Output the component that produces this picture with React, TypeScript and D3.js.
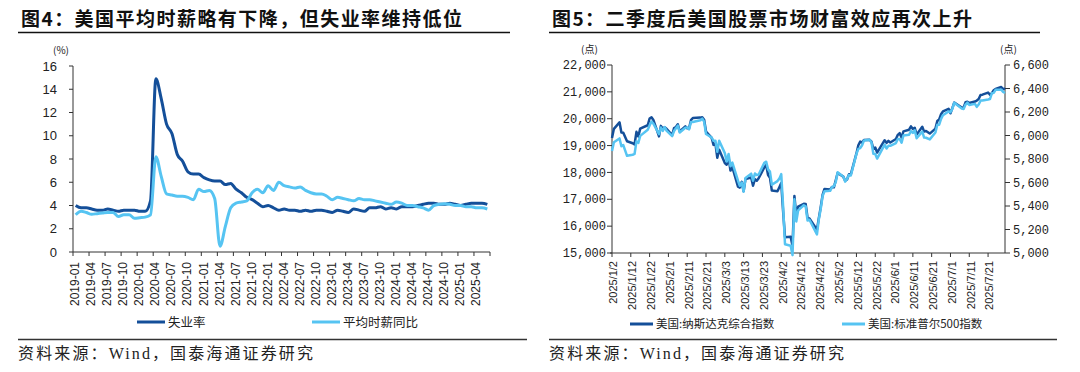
import React from "react";
import * as d3 from "d3";

// 图4: 月度数据, 2019-01 ~ 2025-06
const unemploymentRate = [
  4.0, 3.8, 3.8, 3.7, 3.6, 3.6, 3.7, 3.6, 3.5, 3.6, 3.6, 3.6,
  3.5, 3.5, 4.4, 14.9, 13.2, 11.0, 10.2, 8.4, 7.8, 6.9, 6.7, 6.7,
  6.4, 6.2, 6.1, 6.1, 5.8, 5.9, 5.4, 5.1, 4.7, 4.5, 4.2, 3.9,
  4.0, 3.8, 3.6, 3.7, 3.6, 3.6, 3.5, 3.6, 3.5, 3.6, 3.6, 3.5,
  3.4, 3.6, 3.5, 3.4, 3.7, 3.6, 3.5, 3.8, 3.8, 3.9, 3.7, 3.8,
  3.7, 3.9, 3.9, 3.9, 4.0, 4.1, 4.2, 4.2, 4.1, 4.1, 4.2, 4.1,
  4.0, 4.1, 4.2, 4.2, 4.2, 4.1,
];
const wageYoY = [
  3.2, 3.5, 3.4, 3.25, 3.3, 3.35, 3.4, 3.4, 3.05, 3.2, 3.2, 2.9,
  2.95, 3.0, 3.2, 8.2, 6.5, 5.0, 4.9, 4.8, 4.8, 4.7, 4.5, 5.4,
  5.2, 5.3, 4.6, 0.5, 2.2, 3.8, 4.2, 4.3, 4.4, 5.1, 5.4, 5.1,
  5.7, 5.3, 6.0, 5.7, 5.6, 5.5, 5.6, 5.3, 5.1, 5.0, 5.0, 4.8,
  4.5, 4.7, 4.6, 4.5, 4.4, 4.6, 4.5, 4.5, 4.4, 4.3, 4.2, 4.1,
  4.3, 4.2, 4.0, 4.0, 3.9, 3.8, 3.6, 4.0, 4.1, 4.15, 4.1, 4.0,
  4.0, 3.9, 3.9, 3.8, 3.8, 3.7,
];
const monthTickLabels = [
  "2019-01", "2019-04", "2019-07", "2019-10", "2020-01", "2020-04", "2020-07", "2020-10",
  "2021-01", "2021-04", "2021-07", "2021-10", "2022-01", "2022-04", "2022-07", "2022-10",
  "2023-01", "2023-04", "2023-07", "2023-10", "2024-01", "2024-04", "2024-07", "2024-10",
  "2025-01", "2025-04",
];
const pctTicks = [0, 2, 4, 6, 8, 10, 12, 14, 16];

// 图5: 日度数据, 2025 交易日
const tradeDays = [
  "1/2", "1/3", "1/6", "1/7", "1/8", "1/10", "1/13", "1/14", "1/15", "1/16", "1/17", "1/21", "1/22", "1/23", "1/24", "1/27", "1/28", "1/29", "1/30", "1/31",
  "2/3", "2/4", "2/5", "2/6", "2/7", "2/10", "2/11", "2/12", "2/13", "2/14", "2/18", "2/19", "2/20", "2/21", "2/24", "2/25", "2/26", "2/27", "2/28",
  "3/3", "3/4", "3/5", "3/6", "3/7", "3/10", "3/11", "3/12", "3/13", "3/14", "3/17", "3/18", "3/19", "3/20", "3/21", "3/24", "3/25", "3/26", "3/27", "3/28", "3/31",
  "4/1", "4/2", "4/3", "4/4", "4/7", "4/8", "4/9", "4/10", "4/11", "4/14", "4/15", "4/16", "4/17", "4/21", "4/22", "4/23", "4/24", "4/25", "4/28", "4/29", "4/30",
  "5/1", "5/2", "5/5", "5/6", "5/7", "5/8", "5/9", "5/12", "5/13", "5/14", "5/15", "5/16", "5/19", "5/20", "5/21", "5/22", "5/23", "5/27", "5/28", "5/29", "5/30",
  "6/2", "6/3", "6/4", "6/5", "6/6", "6/9", "6/10", "6/11", "6/12", "6/13", "6/16", "6/17", "6/18", "6/20", "6/23", "6/24", "6/25", "6/26", "6/27", "6/30",
  "7/1", "7/2", "7/3", "7/7", "7/8", "7/9", "7/10", "7/11", "7/14", "7/15", "7/16", "7/17", "7/18", "7/21", "7/22", "7/23", "7/24", "7/25", "7/28", "7/29", "7/30",
];
const nasdaq = [
  19280, 19622, 19865, 19490, 19479, 19162, 19088, 19044, 19511, 19338, 19630, 19757, 20009, 20053, 19954, 19342, 19734, 19632, 19681, 19627,
  19392, 19654, 19692, 19791, 19523, 19714, 19643, 19649, 19945, 20026, 20041, 20056, 19962, 19524, 19286, 19026, 19075, 18544, 18847,
  18350, 18285, 18553, 18069, 18196, 17468, 17436, 17648, 17303, 17754, 17808, 17504, 17751, 17692, 17784, 18189, 18272, 17900, 17804, 17323, 17299,
  17450, 17601, 16551, 15588, 15603, 15268, 17125, 16387, 16724, 16832, 16823, 16307, 16287, 15870, 16300, 16708, 17166, 17383, 17366, 17461, 17446,
  17710, 17978, 17844, 17690, 17738, 17929, 17929, 18708, 19010, 19147, 19112, 19211, 19215, 19143, 18873, 18926, 18737, 19200, 19101, 19175, 19114,
  19243, 19399, 19461, 19298, 19530, 19591, 19715, 19615, 19662, 19407, 19701, 19521, 19546, 19447, 19631, 19913, 19973, 20168, 20273, 20370,
  20202, 20393, 20601, 20412, 20418, 20611, 20630, 20586, 20640, 20677, 20730, 20885, 20896, 20974, 20893, 20950, 21058, 21108, 21179, 21098, 21130,
];
const spx = [
  5868, 5942, 5975, 5909, 5918, 5827, 5836, 5843, 5950, 5937, 5997, 6049, 6086, 6119, 6101, 6012, 6068, 6039, 6071, 6041,
  5995, 6038, 6061, 6084, 6026, 6066, 6069, 6052, 6115, 6115, 6129, 6144, 6118, 6013, 5983, 5955, 5956, 5861, 5955,
  5850, 5778, 5843, 5739, 5770, 5615, 5572, 5599, 5522, 5639, 5675, 5615, 5676, 5663, 5668, 5768, 5777, 5712, 5693, 5581, 5612,
  5633, 5671, 5397, 5074, 5062, 4982, 5457, 5268, 5363, 5406, 5397, 5276, 5283, 5158, 5288, 5376, 5485, 5525, 5529, 5561, 5569,
  5604, 5687, 5650, 5607, 5631, 5664, 5660, 5844, 5886, 5892, 5917, 5958, 5964, 5941, 5845, 5842, 5803, 5922, 5889, 5912, 5912,
  5936, 5970, 5971, 5939, 6000, 6006, 6038, 6022, 6045, 5977, 6033, 5982, 5981, 5967, 6025, 6092, 6092, 6141, 6173, 6205,
  6198, 6227, 6279, 6230, 6226, 6263, 6280, 6260, 6269, 6244, 6264, 6297, 6297, 6306, 6310, 6359, 6363, 6389, 6390, 6371, 6362,
];
const dateTickLabels = [
  "2025/1/2", "2025/1/12", "2025/1/22", "2025/2/1", "2025/2/11", "2025/2/21", "2025/3/3",
  "2025/3/13", "2025/3/23", "2025/4/2", "2025/4/12", "2025/4/22", "2025/5/2", "2025/5/12",
  "2025/5/22", "2025/6/1", "2025/6/11", "2025/6/21", "2025/7/1", "2025/7/11", "2025/7/21",
];
const nasdaqTicks = [15000, 16000, 17000, 18000, 19000, 20000, 21000, 22000];
const spxTicks = [5000, 5200, 5400, 5600, 5800, 6000, 6200, 6400, 6600];

const DARK = "#144f99";
const LIGHT = "#56c4f2";
const AXIS = "#333";
const TEXT = "#222";
const SANS = "'Liberation Sans', Arial, sans-serif";
const CJK = "'Noto Sans CJK SC', sans-serif";
const MONO = "'Liberation Mono', monospace";
const SOURCE_FONT = "'Liberation Serif', 'Noto Sans CJK SC', serif";

const toDate = (s: string) => {
  const p = s.split("/").map(Number);
  return p.length === 3 ? new Date(p[0], p[1] - 1, p[2]) : new Date(2025, p[0] - 1, p[1]);
};

function Header({ x0, x1, title, titleLen }: { x0: number; x1: number; title: string; titleLen: number }) {
  return (
    <g>
      <text x={x0 + 3} y={26} fontFamily={CJK} fontWeight={700} fontSize={19} fill="#111"
        textLength={titleLen} lengthAdjust="spacing">{title}</text>
      <line x1={x0} x2={x1} y1={32.5} y2={32.5} stroke="#111" strokeWidth={1.6} />
    </g>
  );
}

function Footer({ x0, x1 }: { x0: number; x1: number }) {
  return (
    <g>
      <line x1={x0} x2={x1} y1={339.5} y2={339.5} stroke="#333" strokeWidth={1.6} />
      <text x={x0} y={359} fontFamily={SOURCE_FONT} fontSize={16} fill={TEXT}
        textLength={295} lengthAdjust="spacing">资料来源：Wind，国泰海通证券研究</text>
    </g>
  );
}

function LeftChart() {
  const x0 = 73, x1 = 490, yTop = 66, yBot = 252;
  const xL = d3.scaleLinear().domain([0, unemploymentRate.length]).range([x0, x1]);
  const yL = d3.scaleLinear().domain([0, 16]).range([yBot, yTop]);
  const line = d3.line<number>()
    .x((_, i) => xL(i + 0.5))
    .y(d => yL(d))
    .curve(d3.curveMonotoneX);

  return (
    <g>
      <Header x0={18} x1={510} title="图4：美国平均时薪略有下降，但失业率维持低位" titleLen={441} />
      <text x={53} y={54} fontFamily={CJK} fontSize={10} fill={TEXT}>(%)</text>

      {/* y axis */}
      <line x1={x0} x2={x0} y1={yTop} y2={yBot} stroke={AXIS} strokeWidth={1} />
      {pctTicks.map(t => (
        <g key={t}>
          <line x1={x0 - 4} x2={x0} y1={yL(t)} y2={yL(t)} stroke={AXIS} />
          <text x={57} y={yL(t)} dy="0.35em" textAnchor="end" fontFamily={SANS} fontSize={13} fill={TEXT}>{t}</text>
        </g>
      ))}

      {/* x axis */}
      <line x1={x0} x2={x1} y1={yBot} y2={yBot} stroke={AXIS} strokeWidth={1} />
      {monthTickLabels.map((lab, j) => {
        const x = xL(j * 3);
        return (
          <g key={lab}>
            <line x1={x} x2={x} y1={yBot} y2={yBot + 4} stroke={AXIS} />
            <text transform={`translate(${x + 2},${yBot + 10}) rotate(-90)`} dy="0.35em" textAnchor="end"
              fontFamily={SANS} fontSize={12} fill={TEXT}>{lab}</text>
          </g>
        );
      })}
      <line x1={x1} x2={x1} y1={yBot} y2={yBot + 4} stroke={AXIS} />

      <path d={line(unemploymentRate) || ""} fill="none" stroke={DARK} strokeWidth={3} strokeLinejoin="round" />
      <path d={line(wageYoY) || ""} fill="none" stroke={LIGHT} strokeWidth={3} strokeLinejoin="round" />

      {/* legend */}
      <line x1={137} x2={165} y1={322} y2={322} stroke={DARK} strokeWidth={3} />
      <text x={168} y={327} fontFamily={CJK} fontSize={12.5} fill={TEXT}>失业率</text>
      <line x1={312} x2={340} y1={322} y2={322} stroke={LIGHT} strokeWidth={3} />
      <text x={343} y={327} fontFamily={CJK} fontSize={12.5} fill={TEXT}>平均时薪同比</text>

      <Footer x0={18} x1={527} />
    </g>
  );
}

function RightChart() {
  const x0 = 612, x1 = 1005, yTop = 65, yBot = 253;
  const dates = tradeDays.map(toDate);
  const xR = d3.scaleTime().domain([new Date(2025, 0, 2), new Date(2025, 6, 30)]).range([x0, x1]);
  const yN = d3.scaleLinear().domain([15000, 22000]).range([yBot, yTop]);
  const yS = d3.scaleLinear().domain([5000, 6600]).range([yBot, yTop]);
  const fmt = d3.format(",");
  const lineN = d3.line<number>().x((_, i) => xR(dates[i])).y(d => yN(d));
  const lineS = d3.line<number>().x((_, i) => xR(dates[i])).y(d => yS(d));

  return (
    <g>
      <Header x0={549} x1={1040} title="图5：二季度后美国股票市场财富效应再次上升" titleLen={420} />
      <text x={581} y={53} fontFamily={CJK} fontSize={10} fill={TEXT}>(点)</text>
      <text x={1000} y={53} fontFamily={CJK} fontSize={10} fill={TEXT}>(点)</text>

      {/* left y axis */}
      <line x1={x0} x2={x0} y1={yTop} y2={yBot} stroke={AXIS} />
      {nasdaqTicks.map(t => (
        <g key={t}>
          <line x1={x0 - 5} x2={x0} y1={yN(t)} y2={yN(t)} stroke={AXIS} />
          <text x={606} y={yN(t)} dy="0.35em" textAnchor="end" fontFamily={MONO} fontSize={12} fill={TEXT}>{fmt(t)}</text>
        </g>
      ))}

      {/* right y axis */}
      <line x1={x1} x2={x1} y1={yTop} y2={yBot} stroke={AXIS} />
      {spxTicks.map(t => (
        <g key={t}>
          <line x1={x1} x2={x1 + 5} y1={yS(t)} y2={yS(t)} stroke={AXIS} />
          <text x={1013} y={yS(t)} dy="0.35em" fontFamily={MONO} fontSize={12} fill={TEXT}>{fmt(t)}</text>
        </g>
      ))}

      {/* x axis */}
      <line x1={x0 - 2} x2={x1} y1={yBot} y2={yBot} stroke={AXIS} />
      {dateTickLabels.map(lab => {
        const x = xR(toDate(lab));
        return (
          <g key={lab}>
            <line x1={x} x2={x} y1={yBot} y2={yBot + 4} stroke={AXIS} />
            <text transform={`translate(${x + 1.5},${yBot + 8}) rotate(-90)`} dy="0.35em" textAnchor="end"
              fontFamily={SANS} fontSize={11} fill={TEXT}>{lab}</text>
          </g>
        );
      })}

      <path d={lineN(nasdaq) || ""} fill="none" stroke={DARK} strokeWidth={2.5} strokeLinejoin="round" />
      <path d={lineS(spx) || ""} fill="none" stroke={LIGHT} strokeWidth={2.5} strokeLinejoin="round" />

      {/* legend */}
      <line x1={630} x2={653} y1={324} y2={324} stroke={DARK} strokeWidth={3} />
      <text x={656} y={328} fontFamily={CJK} fontSize={11.5} fill={TEXT}>美国:纳斯达克综合指数</text>
      <line x1={842} x2={865} y1={324} y2={324} stroke={LIGHT} strokeWidth={3} />
      <text x={868} y={328} fontFamily={CJK} fontSize={11.5} fill={TEXT}>美国:标准普尔500指数</text>

      <Footer x0={549} x1={1057} />
    </g>
  );
}

export default function App() {
  return (
    <svg width={1080} height={372} style={{ position: "absolute", left: 0, top: 0, background: "#fff" }}>
      <LeftChart />
      <RightChart />
    </svg>
  );
}
